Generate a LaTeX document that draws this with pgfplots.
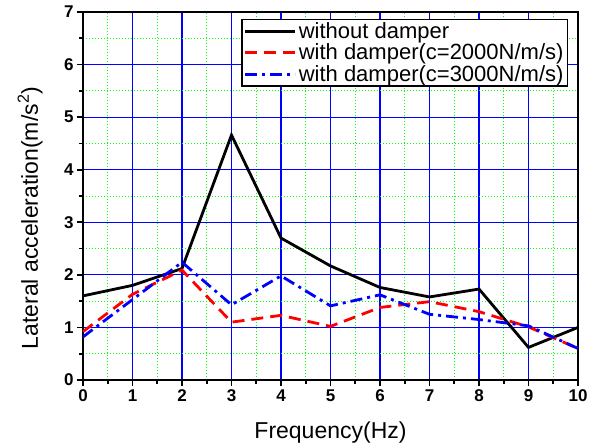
\documentclass[border=0pt]{standalone}
\usepackage{fontspec}
\setmainfont{Liberation Sans}
\usepackage{pgfplots}
\pgfplotsset{compat=1.18}
\begin{document}
\begin{tikzpicture}
\useasboundingbox (-83pt,-67pt) rectangle (508pt,380pt);
\begin{axis}[
 at={(0,0)}, anchor=south west,
 scale only axis, width=495pt, height=368pt,
 xmin=0,xmax=10,ymin=0,ymax=7,
 xtick={0,...,10}, ytick={0,...,7},
 xticklabels={\textbf{0},\textbf{1},\textbf{2},\textbf{3},\textbf{4},\textbf{5},\textbf{6},\textbf{7},\textbf{8},\textbf{9},\textbf{10}},
 yticklabels={\textbf{0},\textbf{1},\textbf{2},\textbf{3},\textbf{4},\textbf{5},\textbf{6},\textbf{7}},
 minor tick num=1,
 tick align=outside, tick pos=left,
 major tick length=6pt, minor tick length=4pt,
 grid=both,
 major grid style={blue, line width=1.1pt},
 minor grid style={green, line width=1pt, dash pattern=on 1pt off 2pt},
 axis line style={line width=2pt},
 every tick/.style={black, line width=1.6pt},
 ticklabel style={font=\fontsize{17}{19}\selectfont},
 xlabel={Frequency(Hz)}, ylabel={Lateral acceleration(m/s\textsuperscript{2})},
 label style={font=\fontsize{23}{26}\selectfont},
 xlabel style={at={(axis description cs:0.5,-0.144)}, anchor=center},
 ylabel style={at={(axis description cs:-0.107,0.44)}, anchor=center},
 legend style={at={(0.98,0.981)}, anchor=north east, font=\fontsize{22}{25}\selectfont, draw=black, line width=1.2pt, inner xsep=2pt, inner ysep=1pt, row sep=0pt, cells={anchor=west}},
 legend image code/.code={\draw[#1] (0pt,0pt) -- (50pt,0pt);},
]
\addplot[black, line width=2.8pt] coordinates {(0,1.6) (1,1.8) (2,2.12) (3,4.66) (4,2.7) (5,2.17) (6,1.76) (7,1.58) (8,1.73) (9,0.62) (10,1.0)};
\addlegendentry{without damper}
\addplot[red, line width=2.8pt, dash pattern=on 12pt off 7pt] coordinates {(0,0.92) (1,1.63) (2,2.09) (3,1.1) (4,1.23) (5,1.02) (6,1.38) (7,1.49) (8,1.3) (9,1.01) (10,0.6)};
\addlegendentry{with damper(c=2000N/m/s)}
\addplot[blue, line width=2.8pt, dash pattern=on 12pt off 5pt on 3pt off 5pt] coordinates {(0,0.82) (1,1.53) (2,2.24) (3,1.43) (4,1.98) (5,1.41) (6,1.62) (7,1.25) (8,1.15) (9,1.03) (10,0.6)};
\addlegendentry{with damper(c=3000N/m/s)}
\end{axis}
\end{tikzpicture}
\end{document}
